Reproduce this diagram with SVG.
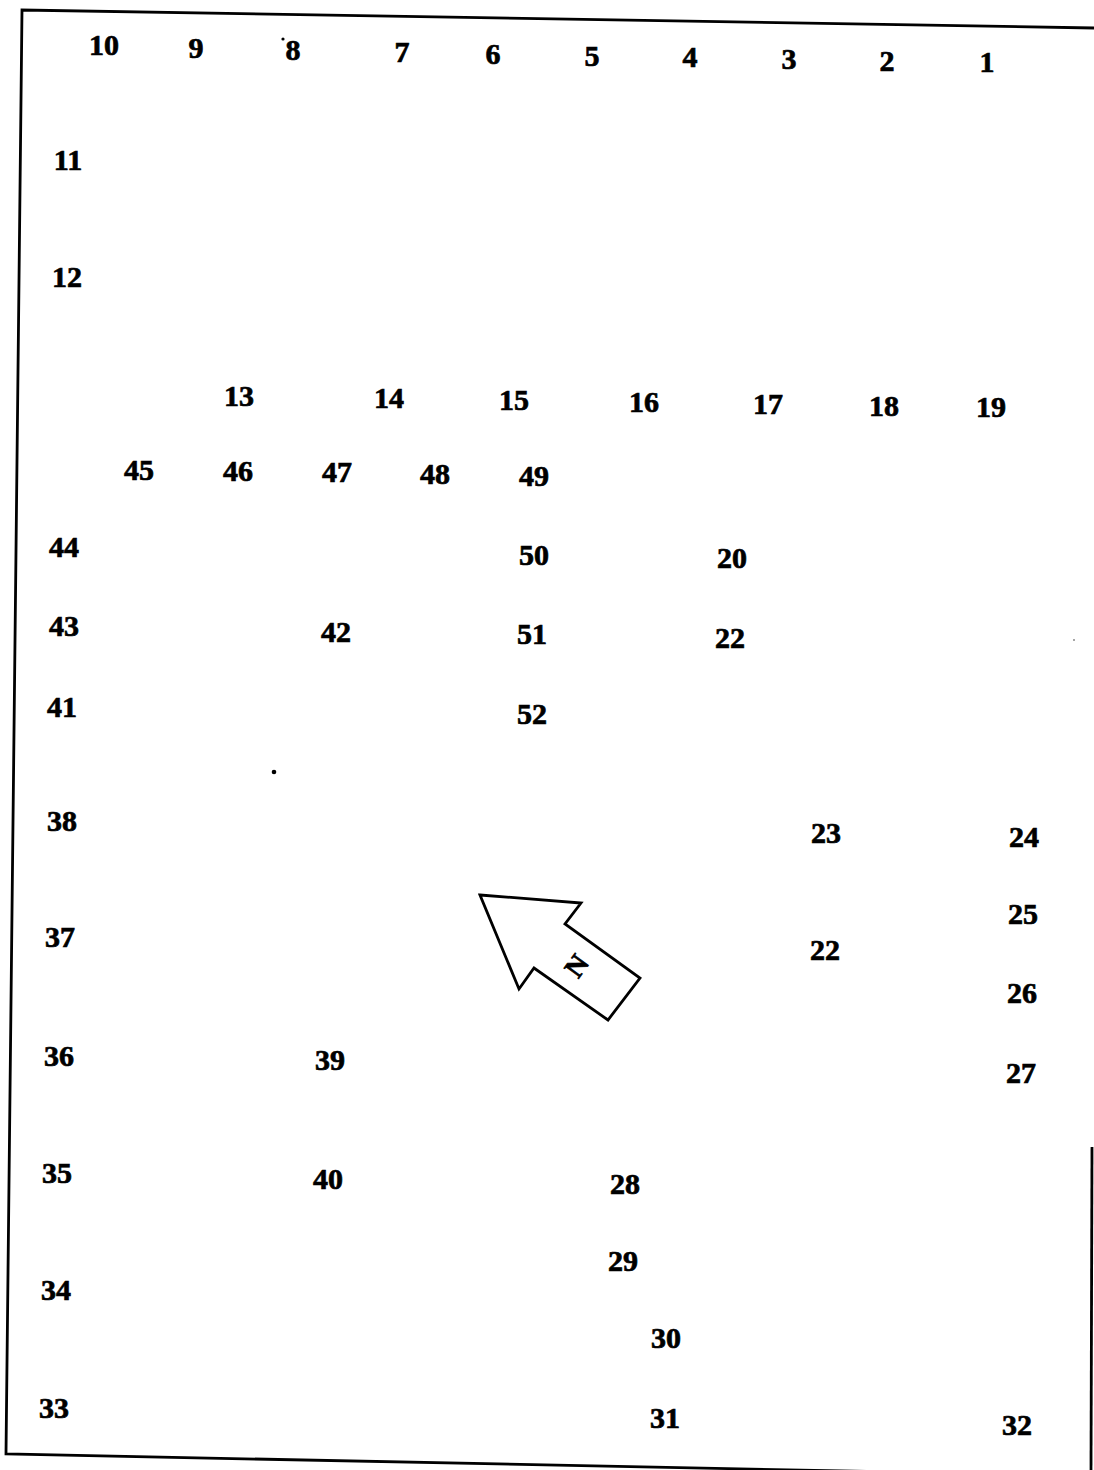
<svg xmlns="http://www.w3.org/2000/svg" width="1094" height="1470" viewBox="0 0 1094 1470">
<style>
text{font-family:"Liberation Serif","Times New Roman",serif;font-weight:bold;font-size:30px;fill:#000;stroke:#000;stroke-width:0.7;text-anchor:middle}
.b{fill:none;stroke:#000;stroke-width:2.8}
</style>
<rect width="1094" height="1470" fill="#fff"/>
<g id="frame">
<polyline class="b" points="1094,28 22,10 6,1454 1094,1476"/>
<line class="b" x1="1092" y1="1147" x2="1091" y2="1470"/>
</g>
<g id="specks" fill="#000">
<circle cx="274" cy="772" r="2.3"/>
<circle cx="283" cy="39" r="1.6"/>
<circle cx="1074" cy="640" r="1" fill="#888"/>
</g>
<g id="north-arrow">
<polygon class="b" points="480,895 581,903 565,924 640,978 608,1020 534,968 519,989"/>
<text x="577" y="966" transform="rotate(-54 577 966)" dy="9" style="font-size:28px">N</text>
</g>
<g id="labels">
<g id="n10"><text x="104" y="55">10</text></g>
<g id="n9"><text x="196" y="58">9</text></g>
<g id="n8"><text x="293" y="60">8</text></g>
<g id="n7"><text x="402" y="62">7</text></g>
<g id="n6"><text x="493" y="64">6</text></g>
<g id="n5"><text x="592" y="66">5</text></g>
<g id="n4"><text x="690" y="67">4</text></g>
<g id="n3"><text x="789" y="69">3</text></g>
<g id="n2"><text x="887" y="71">2</text></g>
<g id="n1"><text x="987" y="72">1</text></g>
<g id="n11"><text x="68" y="170">11</text></g>
<g id="n12"><text x="67" y="287">12</text></g>
<g id="n13"><text x="239" y="406">13</text></g>
<g id="n14"><text x="389" y="408">14</text></g>
<g id="n15"><text x="514" y="410">15</text></g>
<g id="n16"><text x="644" y="412">16</text></g>
<g id="n17"><text x="768" y="414">17</text></g>
<g id="n18"><text x="884" y="416">18</text></g>
<g id="n19"><text x="991" y="417">19</text></g>
<g id="n45"><text x="139" y="480">45</text></g>
<g id="n46"><text x="238" y="481">46</text></g>
<g id="n47"><text x="337" y="482">47</text></g>
<g id="n48"><text x="435" y="484">48</text></g>
<g id="n49"><text x="534" y="486">49</text></g>
<g id="n44"><text x="64" y="557">44</text></g>
<g id="n50"><text x="534" y="565">50</text></g>
<g id="n20"><text x="732" y="568">20</text></g>
<g id="n43"><text x="64" y="636">43</text></g>
<g id="n42"><text x="336" y="642">42</text></g>
<g id="n51"><text x="532" y="644">51</text></g>
<g id="n22a"><text x="730" y="648">22</text></g>
<g id="n41"><text x="62" y="717">41</text></g>
<g id="n52"><text x="532" y="724">52</text></g>
<g id="n38"><text x="62" y="831">38</text></g>
<g id="n23"><text x="826" y="843">23</text></g>
<g id="n24"><text x="1024" y="847">24</text></g>
<g id="n37"><text x="60" y="947">37</text></g>
<g id="n25"><text x="1023" y="924">25</text></g>
<g id="n22b"><text x="825" y="960">22</text></g>
<g id="n26"><text x="1022" y="1003">26</text></g>
<g id="n36"><text x="59" y="1066">36</text></g>
<g id="n39"><text x="330" y="1070">39</text></g>
<g id="n27"><text x="1021" y="1083">27</text></g>
<g id="n35"><text x="57" y="1183">35</text></g>
<g id="n40"><text x="328" y="1189">40</text></g>
<g id="n28"><text x="625" y="1194">28</text></g>
<g id="n29"><text x="623" y="1271">29</text></g>
<g id="n34"><text x="56" y="1300">34</text></g>
<g id="n30"><text x="666" y="1348">30</text></g>
<g id="n33"><text x="54" y="1418">33</text></g>
<g id="n31"><text x="665" y="1428">31</text></g>
<g id="n32"><text x="1017" y="1435">32</text></g>
</g>
<g id="connectors"></g>
</svg>
